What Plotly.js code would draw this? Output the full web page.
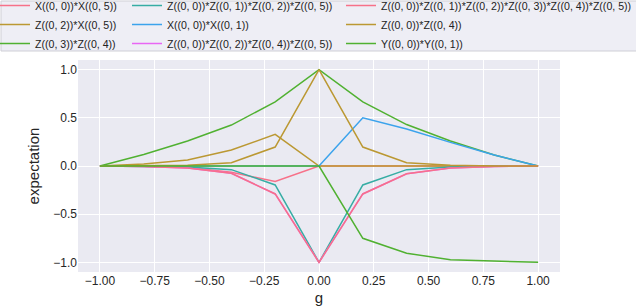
<!DOCTYPE html>
<html>
<head>
<meta charset="utf-8">
<script src="https://cdn.plot.ly/plotly-3.0.1.min.js"></script>
<style>html,body{margin:0;padding:0;background:#fff;}#chart{width:636px;height:306px;}</style>
</head>
<body>
<div id="chart"></div>
<script>
var g = [-1.0, -0.8, -0.6, -0.4, -0.2, 0.0, 0.2, 0.4, 0.6, 0.8, 1.0];

var names = [
  "X((0, 0))*X((0, 5))",
  "Z((0, 2))*X((0, 5))",
  "Z((0, 3))*Z((0, 4))",
  "Z((0, 0))*Z((0, 1))*Z((0, 2))*Z((0, 5))",
  "X((0, 0))*X((0, 1))",
  "Z((0, 0))*Z((0, 2))*Z((0, 4))*Z((0, 5))",
  "Z((0, 0))*Z((0, 1))*Z((0, 2))*Z((0, 3))*Z((0, 4))*Z((0, 5))",
  "Z((0, 0))*Z((0, 4))",
  "Y((0, 0))*Y((0, 1))"
];

var x0x5       = [0, -0.003, -0.015, -0.065, -0.16, 0, 0, 0, 0, 0, 0];
var z2x5       = [0, 0.02, 0.062, 0.166, 0.328, 0, 0, 0, 0, 0, 0];
var z3z4       = [0, 0.12, 0.26, 0.425, 0.666, 1.0, 0.666, 0.43, 0.26, 0.114, 0];
var z0z1z2z5   = [0, -0.002, -0.01, -0.038, -0.197, -1.0, -0.197, -0.038, -0.01, -0.002, 0];
var x0x1       = [0, 0, 0, 0, 0, 0, 0.5, 0.383, 0.245, 0.114, 0];
var z0z2z4z5   = [0, -0.004, -0.02, -0.076, -0.29, -1.0, -0.29, -0.08, -0.02, -0.004, 0];
var z0to5      = [0, -0.004, -0.02, -0.076, -0.29, -1.0, -0.29, -0.08, -0.02, -0.004, 0];
var z0z4       = [0, 0.001, 0.008, 0.034, 0.197, 1.0, 0.197, 0.034, 0.008, 0.001, 0];
var y0y1       = [0, 0, 0, 0, 0, 0, -0.75, -0.905, -0.974, -0.99, -1.0];

var series = [x0x5, z2x5, z3z4, z0z1z2z5, x0x1, z0z2z4z5, z0to5, z0z4, y0y1];
var colors = ['#f77189', '#bb9832', '#50b131', '#36ada4', '#3ba3ec', '#e866f4', '#f77189', '#bb9832', '#50b131'];
var legendIds = ['legend', 'legend', 'legend', 'legend2', 'legend2', 'legend2', 'legend3', 'legend3', 'legend3'];

var xTicks = [-1.0, -0.75, -0.5, -0.25, 0.0, 0.25, 0.5, 0.75, 1.0];
var yTicks = [-1.0, -0.5, 0.0, 0.5, 1.0];

var traces = series.map(function (s, i) {
  return {
    x: g, y: s, type: 'scatter', mode: 'lines', name: names[i],
    line: {color: colors[i], width: 1.5},
    legend: legendIds[i]
  };
});

var FONT = 'Liberation Sans, Arial, sans-serif';
var L = 78, R = 76, T = 60, B = 34;
var W = 636 - L - R, H = 306 - T - B;
function px(xp) { return (xp - L) / W; }
function py(yp) { return (306 - B - yp) / H; }

function legendAt(xText) {
  return {
    x: px(xText - 40), xanchor: 'left',
    y: py(-9), yanchor: 'top',
    bgcolor: 'rgba(0,0,0,0)', borderwidth: 0,
    font: {family: FONT, size: 10.6, color: '#222'},
    orientation: 'v'
  };
}

var layout = {
  width: 636, height: 306,
  margin: {l: L, r: R, t: T, b: B, pad: 0, autoexpand: false},
  paper_bgcolor: '#ffffff',
  plot_bgcolor: '#eaeaf2',
  font: {family: FONT, color: '#262626'},
  showlegend: true,
  legend: legendAt(35),
  legend2: legendAt(167),
  legend3: legendAt(381),
  xaxis: {
    range: [-1.1, 1.1], tickvals: xTicks, tickformat: '.2f',
    showgrid: true, gridcolor: '#ffffff', gridwidth: 1, zeroline: false,
    showline: false, ticks: '',
    tickfont: {family: FONT, size: 12, color: '#262626'},
    title: {text: 'g', font: {family: FONT, size: 15, color: '#262626'}, standoff: 6}
  },
  yaxis: {
    range: [-1.1, 1.1], tickvals: yTicks, tickformat: '.1f',
    showgrid: true, gridcolor: '#ffffff', gridwidth: 1, zeroline: false,
    showline: false, ticks: '',
    tickfont: {family: FONT, size: 12, color: '#262626'},
    title: {text: 'expectation', font: {family: FONT, size: 15, color: '#262626'}, standoff: 10}
  },
  shapes: [{
    type: 'rect', xref: 'paper', yref: 'paper',
    x0: px(1), x1: px(645), y0: py(51), y1: py(1),
    fillcolor: 'rgba(234,234,242,0.8)', line: {color: '#cfcfd6', width: 1},
    layer: 'above'
  }]
};

Plotly.newPlot('chart', traces, layout, {displayModeBar: false, staticPlot: true});
</script>
</body>
</html>
